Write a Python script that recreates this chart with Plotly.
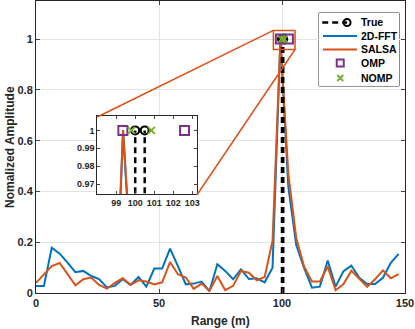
import plotly.graph_objects as go

# range bins (m)
range_m = [0, 3.21, 6.41, 9.62, 12.82, 16.03, 19.23, 22.44, 25.64, 28.85, 32.05, 35.26,
           38.46, 41.67, 44.87, 48.08, 51.28, 54.49, 57.69, 60.9, 64.1, 67.31, 70.51,
           73.72, 76.92, 80.13, 83.33, 86.54, 89.74, 92.95, 96.15, 99.36, 102.56, 105.77,
           108.97, 112.18, 115.38, 118.59, 121.79, 125.0, 128.2, 131.41, 134.61, 137.82,
           141.02, 144.23, 147.43]

fft_amp = [0.028, 0.028, 0.178, 0.155, 0.12, 0.082, 0.087, 0.067, 0.055, 0.022, 0.028, 0.054,
           0.032, 0.063, 0.025, 0.096, 0.096, 0.175, 0.106, 0.034, 0.037, 0.045, 0.007,
           0.113, 0.087, 0.054, 0.093, 0.055, 0.058, 0.042, 0.1, 1.0, 0.42, 0.19,
           0.099, 0.021, 0.025, 0.128, 0.025, 0.086, 0.108, 0.06, 0.035, 0.035,
           0.06, 0.119, 0.154]

salsa_amp = [0.04, 0.075, 0.106, 0.118, 0.075, 0.03, 0.054, 0.061, 0.032, 0.017, 0.04, 0.058,
             0.032, 0.05, 0.045, 0.034, 0.042, 0.122, 0.074, 0.061, 0.016, 0.037, 0.008,
             0.067, 0.011, 0.028, 0.087, 0.08, 0.05, 0.063, 0.205, 1.0, 0.47, 0.218,
             0.104, 0.045, 0.045, 0.104, 0.011, 0.035, 0.088, 0.054, 0.024, 0.054,
             0.089, 0.058, 0.074]

true_pos = [100.0, 100.5]
true_amp = [1.0, 1.0]
omp_pos = [99.35, 102.6]
omp_amp = [1.0, 1.0]
nomp_pos = [99.8, 100.85]
nomp_amp = [1.0, 1.0]

legend_names = ["True", "2D-FFT", "SALSA", "OMP", "NOMP"]

BLUE = "#0072BD"
ORANGE = "#D95319"
PURPLE = "#7E2F8E"
GREEN = "#77AC30"
AX = "#262626"
FONT = "Liberation Sans"

DASH = "6px,4px"
style = {
    "fft": dict(mode="lines", line=dict(color=BLUE, width=2)),
    "salsa": dict(mode="lines", line=dict(color=ORANGE, width=2)),
    "stem": dict(mode="lines", line=dict(color="black", width=2.5, dash=DASH)),
    "true": dict(mode="markers", marker=dict(symbol="circle-open", size=8, color="black",
                                             line=dict(width=2))),
    "omp": dict(mode="markers", marker=dict(symbol="square-open", size=9, color=PURPLE,
                                            line=dict(width=2))),
    "nomp": dict(mode="markers", marker=dict(symbol="x-thin-open", size=7, color=GREEN,
                                             line=dict(width=2, color=GREEN))),
}


def stems(xs, ys):
    sx, sy = [], []
    for x, y in zip(xs, ys):
        sx += [x, x, None]
        sy += [0, y, None]
    return sx, sy


fig = go.Figure()
stem_x, stem_y = stems(true_pos, true_amp)

for ax, ay in [("x", "y"), ("x2", "y2")]:
    fig.add_trace(go.Scatter(x=range_m, y=fft_amp, xaxis=ax, yaxis=ay, **style["fft"]))
    fig.add_trace(go.Scatter(x=range_m, y=salsa_amp, xaxis=ax, yaxis=ay, **style["salsa"]))
    fig.add_trace(go.Scatter(x=stem_x, y=stem_y, xaxis=ax, yaxis=ay, **style["stem"]))
    fig.add_trace(go.Scatter(x=true_pos, y=true_amp, xaxis=ax, yaxis=ay, **style["true"]))
    fig.add_trace(go.Scatter(x=omp_pos, y=omp_amp, xaxis=ax, yaxis=ay, **style["omp"]))
    fig.add_trace(go.Scatter(x=nomp_pos, y=nomp_amp, xaxis=ax, yaxis=ay, **style["nomp"]))

# hand-made legend on its own (hidden) axes, MATLAB-like compact rows
rows = [0.87, 0.685, 0.5, 0.315, 0.11]
fig.add_trace(go.Scatter(x=[0.04, 0.35], y=[rows[0]] * 2, xaxis="x3", yaxis="y3",
                         **style["stem"]))
fig.add_trace(go.Scatter(x=[0.35], y=[rows[0]], xaxis="x3", yaxis="y3",
                         mode="markers", marker=dict(symbol="circle-open", size=7,
                                                     color="black", line=dict(width=2))))
fig.add_trace(go.Scatter(x=[0.05, 0.475], y=[rows[1]] * 2, xaxis="x3", yaxis="y3",
                         **style["fft"]))
fig.add_trace(go.Scatter(x=[0.05, 0.475], y=[rows[2]] * 2, xaxis="x3", yaxis="y3",
                         **style["salsa"]))
fig.add_trace(go.Scatter(x=[0.265], y=[rows[3]], xaxis="x3", yaxis="y3",
                         mode="markers", marker=dict(symbol="square-open", size=7,
                                                     color=PURPLE, line=dict(width=2))))
fig.add_trace(go.Scatter(x=[0.265], y=[rows[4]], xaxis="x3", yaxis="y3",
                         mode="markers", marker=dict(symbol="x-thin-open", size=6,
                                                     color=GREEN,
                                                     line=dict(width=2, color=GREEN))))

tickfont = dict(family=FONT, size=11, color=AX, weight="bold")
insetfont = dict(family=FONT, size=9, color=AX, weight="bold")
titlefont = dict(family=FONT, size=12, color=AX, weight="bold")
legfont = dict(family=FONT, size=10.5, color="black", weight="bold")

annotations = [
    dict(text="Range (m)", xref="paper", yref="paper", x=0.5, y=-0.096,
         showarrow=False, font=titlefont, xanchor="center", yanchor="middle"),
    dict(text="Nomalized Amplitude", xref="paper", yref="paper", x=-0.0705, y=0.5,
         showarrow=False, font=titlefont, textangle=-90,
         xanchor="center", yanchor="middle"),
]
for name, yy in zip(legend_names, rows):
    annotations.append(dict(text=name, xref="x3", yref="y3", x=0.5, y=yy,
                            showarrow=False, font=legfont, xanchor="left",
                            yanchor="middle"))

hidden = dict(range=[0, 1], visible=False, fixedrange=True)

fig.update_layout(
    width=415, height=329,
    margin=dict(l=36, r=10, t=1, b=36),
    paper_bgcolor="white", plot_bgcolor="white",
    font=dict(family=FONT, color=AX),
    showlegend=False,
    xaxis=dict(range=[0, 150], tickvals=[0, 50, 100, 150], ticks="inside", ticklen=4,
               showline=True, mirror="ticks", linecolor=AX, linewidth=1,
               showgrid=True, gridcolor="#e3e3e3", zeroline=False, tickfont=tickfont,
               automargin=False),
    yaxis=dict(range=[0, 1.15], tickvals=[0, 0.2, 0.4, 0.6, 0.8, 1],
               ticktext=["0", "0.2", "0.4", "0.6", "0.8", "1"], ticks="inside", ticklen=4,
               showline=True, mirror="ticks", linecolor=AX, linewidth=1,
               showgrid=True, gridcolor="#e3e3e3", zeroline=False, tickfont=tickfont,
               automargin=False),
    xaxis2=dict(domain=[0.166, 0.436], anchor="y2", range=[98, 103.25],
                tickvals=[99, 100, 101, 102, 103], ticks="inside", ticklen=3,
                showline=True, mirror="ticks", linecolor=AX, linewidth=1,
                showgrid=False, zeroline=False, tickfont=insetfont, automargin=False),
    yaxis2=dict(domain=[0.339, 0.606], anchor="x2", range=[0.9645, 1.008],
                tickvals=[0.97, 0.98, 0.99, 1], ticktext=["0.97", "0.98", "0.99", "1"],
                ticks="inside", ticklen=3,
                showline=True, mirror="ticks", linecolor=AX, linewidth=1,
                showgrid=False, zeroline=False, tickfont=insetfont, automargin=False),
    xaxis3=dict(domain=[0.767, 0.984], anchor="y3", **hidden),
    yaxis3=dict(domain=[0.709, 0.959], anchor="x3", **hidden),
    annotations=annotations,
    shapes=[
        # white backdrops for the inset and the legend
        dict(type="rect", xref="x2 domain", yref="y2 domain", x0=0, x1=1, y0=0, y1=1,
             fillcolor="white", line=dict(width=0), layer="below"),
        dict(type="rect", xref="x3 domain", yref="y3 domain", x0=0, x1=1, y0=0, y1=1,
             fillcolor="white", line=dict(color=AX, width=1), layer="below"),
        # zoom box
        dict(type="rect", xref="x", yref="y", x0=96.5, x1=105.3, y0=0.959, y1=1.034,
             line=dict(color=ORANGE, width=1.5)),
        # connector lines
        dict(type="line", xref="x", yref="y", x0=96.5, y0=1.034, x1=24.9, y1=0.693,
             line=dict(color=ORANGE, width=1.5)),
        dict(type="line", xref="x", yref="y", x0=105.3, y0=0.959, x1=65.4, y1=0.386,
             line=dict(color=ORANGE, width=1.5)),
    ],
)

fig.write_html("out.html", config={"displayModeBar": False},
               post_script="document.body.style.margin='0';"
                           "document.body.style.overflow='hidden';")
